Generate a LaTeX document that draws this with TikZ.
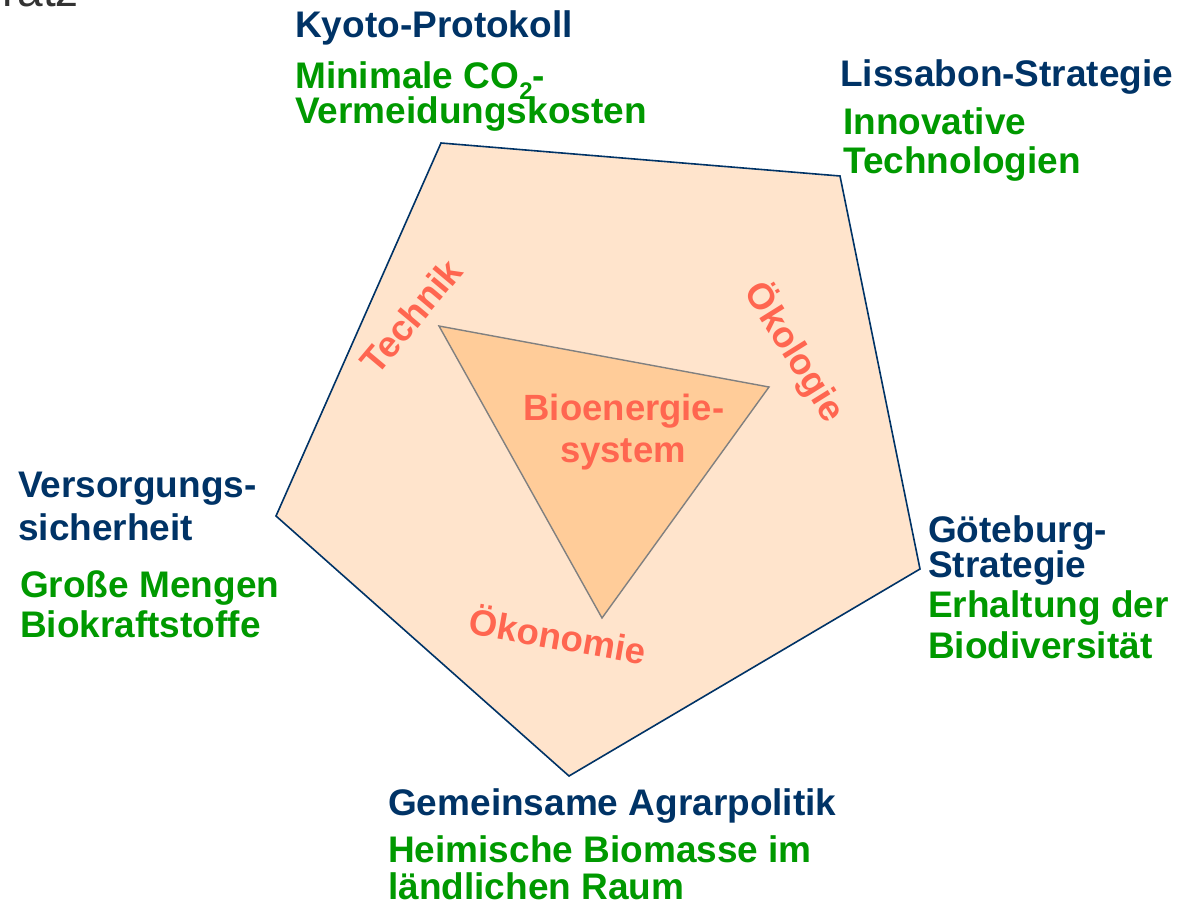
\documentclass[tikz,border=0pt]{standalone}
\usepackage{fontspec}
\setmainfont{Liberation Sans}
\definecolor{navy}{RGB}{0,51,102}
\definecolor{leafgreen}{RGB}{0,153,0}
\definecolor{salmon}{RGB}{255,102,80}
\definecolor{peach}{RGB}{255,228,204}
\definecolor{apricot}{RGB}{255,204,153}
\definecolor{titlegray}{RGB}{51,51,51}
\begin{document}
\begin{tikzpicture}[x=1pt,y=-1pt,
  lbl/.style={inner sep=0pt,anchor=base west,font=\fontsize{37}{40}\selectfont\bfseries},
  head/.style={lbl,text=navy},
  goal/.style={lbl,text=leafgreen},
  pillar/.style={inner sep=0pt,text=salmon,font=\fontsize{36.5}{40}\selectfont\bfseries},
  penta/.style={draw=navy,fill=peach,line width=1.6pt,line join=miter},
  tri/.style={draw=gray,fill=apricot,line width=1.4pt,line join=miter}]
\useasboundingbox (0,0) rectangle (1191,902);
% partial title at top edge
\node[inner sep=0pt,anchor=base east,text=titlegray,font=\fontsize{46}{50}\selectfont] (ttl) at (79,6) {ratz};
% pentagon
\coordinate (p1) at (441,143);
\coordinate (p2) at (840,176);
\coordinate (p3) at (920,569);
\coordinate (p4) at (569,776);
\coordinate (p5) at (276,516);
\draw[penta] (p1) -- (p2) -- (p3) -- (p4) -- (p5) -- cycle;
% triangle
\coordinate (t1) at (439,326);
\coordinate (t2) at (769,387);
\coordinate (t3) at (602,618);
\draw[tri] (t1) -- (t2) -- (t3) -- cycle;
% inner labels
\node[pillar,anchor=base] (bio1) at (624,420) {Bioenergie-};
\node[pillar,anchor=base] (bio2) at (623,462) {system};
\node[pillar,rotate=50] (tech) at (411,316) {Technik};
\node[pillar,rotate=-58] (oeko) at (795,352) {Ökologie};
\node[pillar,rotate=-10] (econ) at (558,634) {Ökonomie};
% outer labels
\node[head] (kyoto) at (295,37) {Kyoto-Protokoll};
\node[goal] (min1) at (295,88) {Minimale CO\raisebox{-0.3em}{\fontsize{24}{24}\selectfont 2}-};
\node[goal] (min2) at (295,123) {Vermeidungskosten};
\node[head] (lis) at (840,86) {Lissabon-Strategie};
\node[goal] (inn1) at (843,134) {Innovative};
\node[goal] (inn2) at (843,173) {Technologien};
\node[head] (ver1) at (18,497) {Versorgungs-};
\node[head] (ver2) at (18,540) {sicherheit};
\node[goal] (gro1) at (20,597) {Große Mengen};
\node[goal] (gro2) at (20,637) {Biokraftstoffe};
\node[head] (goe1) at (928,542) {Göteburg-};
\node[head] (goe2) at (928,577) {Strategie};
\node[goal] (erh1) at (928,617) {Erhaltung der};
\node[goal] (erh2) at (928,658) {Biodiversität};
\node[head] (gap) at (388,815) {Gemeinsame Agrarpolitik};
\node[goal] (hei1) at (388,862) {Heimische Biomasse im};
\node[goal] (hei2) at (388,899) {ländlichen Raum};
\end{tikzpicture}
\end{document}
